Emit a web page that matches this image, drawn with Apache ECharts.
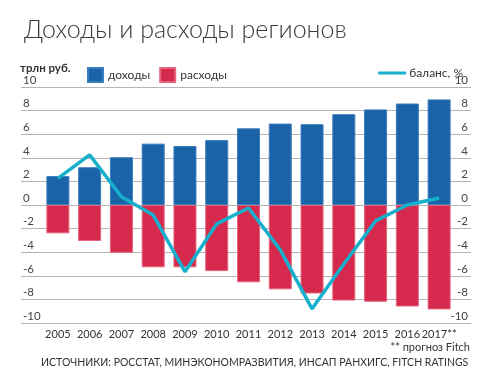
<!DOCTYPE html>
<html><head><meta charset="utf-8">
<script src="https://cdn.jsdelivr.net/npm/echarts@6/dist/echarts.min.js"></script>
<style>html,body{margin:0;padding:0;background:#fff}#c{width:486px;height:380px}</style>
</head><body><div id="c"></div>
<script>
const categories = ['2005','2006','2007','2008','2009','2010','2011','2012','2013','2014','2015','2016','2017**'];
const incomes = [2.45, 3.2, 4.05, 5.2, 5.0, 5.5, 6.5, 6.9, 6.85, 7.7, 8.1, 8.6, 8.95];
const expenses = [-2.4, -3.05, -4.05, -5.28, -5.28, -5.6, -6.55, -7.15, -7.5, -8.1, -8.2, -8.6, -8.85];
const balance = [2.25, 4.25, 0.7, -0.85, -5.65, -1.6, -0.25, -3.8, -8.8, -5.0, -1.35, 0.0, 0.6];
const yTicks = {min: -10, max: 10, interval: 2};

const FONT = 'Lato';
const chart = echarts.init(document.getElementById('c'), null, {renderer: 'canvas'});
const yLab = {inside: true, fontFamily: FONT, fontSize: 11.5, color: '#444', verticalAlign: 'bottom', padding: [0, 0, 1, 0], margin: 2};
chart.setOption({
  animation: false,
  title: {text: 'Доходы и расходы регионов', left: 19, top: 12,
    textStyle: {fontFamily: FONT, fontWeight: 300, fontSize: 25, color: '#3a3a3a'}},
  legend: [
    {data: [{name: 'доходы', icon: 'rect'}, {name: 'расходы', icon: 'rect'}], left: 82, top: 62, itemWidth: 15, itemHeight: 14, itemGap: 9,
     textStyle: {fontFamily: FONT, fontSize: 12, color: '#333', padding: [0, 0, 0, 0]}},
    {data: [{name: 'баланс, %', icon: 'rect'}], right: 18, top: 62, itemWidth: 28, itemHeight: 3, itemGap: 4,
     textStyle: {fontFamily: FONT, fontSize: 12, color: '#333', padding: [0, 0, 0, -2]}}
  ],
  graphic: [
    {type: 'text', left: 20, top: 62, style: {text: 'трлн руб.', font: 'bold 11.5px ' + FONT, fill: '#333'}},
    {type: 'text', right: 16, top: 342, style: {text: '** прогноз Fitch', font: '11px ' + FONT, fill: '#333'}},
    {type: 'text', left: 41, top: 357, style: {text: 'ИСТОЧНИКИ: РОССТАТ, МИНЭКОНОМРАЗВИТИЯ, ИНСАП РАНХИГС, FITCH RATINGS', font: '10.5px ' + FONT, fill: '#333'}}
  ],
  grid: [
    {left: 21, right: 15, top: 87, bottom: 57},
    {left: 42, right: 31, top: 87, bottom: 57}
  ],
  xAxis: [
    {type: 'category', gridIndex: 0, data: categories, show: false},
    {type: 'category', gridIndex: 1, data: categories,
     axisLine: {show: false}, axisTick: {show: false},
     axisLabel: {fontFamily: FONT, fontSize: 11, color: '#333', margin: 6, interval: 0}}
  ],
  yAxis: [
    {type: 'value', gridIndex: 0, position: 'left', min: yTicks.min, max: yTicks.max, interval: yTicks.interval,
     axisLine: {show: false}, axisTick: {show: false},
     splitLine: {lineStyle: {color: '#b4b4b4', width: 1.2}},
     axisLabel: Object.assign({}, yLab)},
    {type: 'value', gridIndex: 0, position: 'right', min: yTicks.min, max: yTicks.max, interval: yTicks.interval,
     axisLine: {show: false}, axisTick: {show: false}, splitLine: {show: false},
     axisLabel: Object.assign({}, yLab, {margin: 3})},
    {type: 'value', gridIndex: 1, min: yTicks.min, max: yTicks.max, interval: yTicks.interval, show: false, splitLine: {show: false}},
    {type: 'value', gridIndex: 1, position: 'right', min: yTicks.min, max: yTicks.max, interval: yTicks.interval, show: false, splitLine: {show: false}}
  ],
  series: [
    {name: 'доходы', type: 'bar', xAxisIndex: 1, yAxisIndex: 2, stack: 's', data: incomes, barWidth: 23,
     itemStyle: {color: '#1b63a8', borderColor: '#3c7dbd', borderWidth: 1}},
    {name: 'расходы', type: 'bar', xAxisIndex: 1, yAxisIndex: 2, stack: 's', data: expenses, barWidth: 23,
     itemStyle: {color: '#d52a4e', borderColor: '#e5657c', borderWidth: 1}},
    {name: 'баланс, %', type: 'line', xAxisIndex: 1, yAxisIndex: 3, data: balance, showSymbol: false, symbol: 'none',
     lineStyle: {color: '#17b0cc', width: 3.5}, itemStyle: {color: '#17b0cc'}, z: 5}
  ]
});
</script></body></html>
